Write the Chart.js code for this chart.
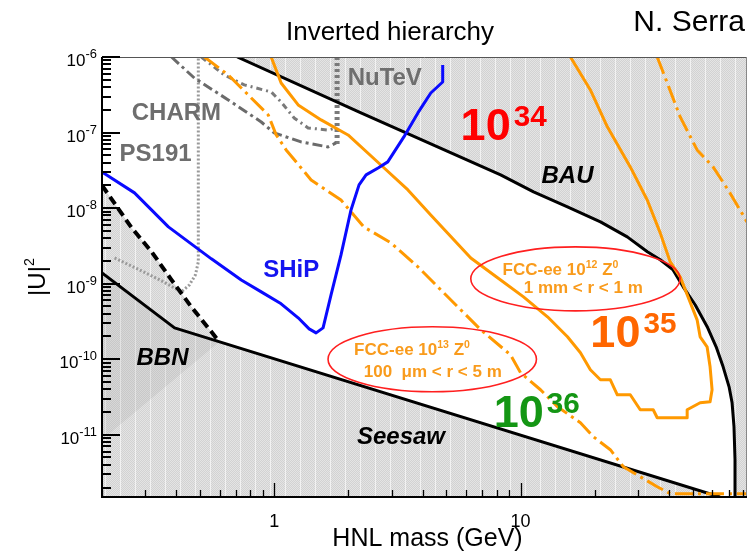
<!DOCTYPE html>
<html>
<head>
<meta charset="utf-8">
<script src="https://cdn.jsdelivr.net/npm/chart.js@4/dist/chart.umd.min.js"></script>
<style>
  html, body { margin: 0; padding: 0; background: #fff; }
  #wrap { width: 753px; height: 555px; }
</style>
</head>
<body>
<div id="wrap"><canvas id="c" width="753" height="555"></canvas></div>
<script>
// Axis ranges: HNL mass in GeV, mixing |U|^2
const massRange = [0.2, 83];
const mixingRange = [1.5e-12, 1e-6];
const yTickExponents = [-6, -7, -8, -9, -10, -11];
const xTickLabels = [1, 10];

// Baryon asymmetry (BAU) boundary
const bauMass = [0.708, 2.25, 8.30, 11.29, 15.5, 21.1, 27.1, 32.7, 36.9, 41.6, 45.7, 51.1, 57.2, 62.2, 66.4, 70.2, 72.2, 73.5, 74.2, 74.2];
const bauU2   = [1e-6, 1.82e-7, 2.75e-8, 1.64e-8, 1.04e-8, 6.57e-9, 4.16e-9, 2.64e-9, 2.07e-9, 1.52e-9, 9.08e-10, 5.25e-10, 2.69e-10, 1.46e-10, 7.93e-11, 4.31e-11, 2.65e-11, 1.28e-11, 4.67e-12, 1.5e-12];

// Seesaw lower bound
const seesawMass = [0.2, 0.394, 64.5];
const seesawU2   = [1.39e-9, 2.60e-10, 1.5e-12];

// BBN bound (dashed) and the edge of the BBN core region
const bbnMass = [0.2, 0.264, 0.318, 0.383, 0.461, 0.599];
const bbnU2   = [2.0e-8, 5.47e-9, 2.64e-9, 1.12e-9, 4.93e-10, 1.70e-10];
const bbnCoreMass = [0.2, 0.599];
const bbnCoreU2   = [8.6e-12, 1.70e-10];

// SHiP sensitivity
const shipMass = [0.2, 0.271, 0.372, 0.556, 0.735, 0.886, 1.067, 1.251, 1.386, 1.479, 1.579, 1.701, 1.867, 2.05, 2.21, 2.36, 2.64, 2.89, 3.36, 3.83, 4.32, 4.83, 4.83];
const shipU2   = [3.01e-8, 1.59e-8, 5.64e-9, 2.13e-9, 1.12e-9, 7.79e-10, 5.41e-10, 3.53e-10, 2.52e-10, 2.23e-10, 2.60e-10, 7.11e-10, 2.40e-9, 9.46e-9, 2.03e-8, 2.75e-8, 3.40e-8, 4.09e-8, 8.75e-8, 1.82e-7, 3.34e-7, 4.67e-7, 7.84e-7];

// FCC-ee, 10^12 Z0, 1 mm < r < 1 m (solid contour)
const fcc12Mass = [0.972, 1.067, 1.251, 1.550, 1.994, 2.71, 3.49, 4.32, 6.28, 8.30, 10.28, 12.86, 15.50, 17.50, 19.20, 21.09, 23.14, 24.70, 27.88, 30.60, 34.55, 35.86, 47.45, 47.45, 53.56, 58.78, 59.89, 58.78, 57.16, 53.56, 52.07, 44.45, 40.50, 36.88, 32.67, 27.88, 22.50, 19.20, 15.94];
const fcc12U2   = [1e-6, 4.53e-7, 2.32e-7, 1.47e-7, 9.29e-8, 3.72e-8, 1.74e-8, 8.13e-9, 2.19e-9, 1.12e-9, 6.68e-10, 3.64e-10, 1.98e-10, 1.22e-10, 7.24e-11, 5.34e-11, 5.34e-11, 3.38e-11, 3.38e-11, 2.14e-11, 2.14e-11, 1.68e-11, 1.68e-11, 2.14e-11, 2.65e-11, 2.73e-11, 3.94e-11, 7.93e-11, 1.46e-10, 1.98e-10, 3.32e-10, 1.23e-9, 1.94e-9, 4.70e-9, 1.28e-8, 3.51e-8, 1.19e-7, 3.66e-7, 1e-6];

// FCC-ee, 10^13 Z0, 100 um < r < 5 m (dash-dot contour, two branches)
const fcc13Mass = [0.521, 0.651, 0.785, 0.946, 1.019, 1.118, 1.412, 1.867, 2.31, 2.98, 3.83, 4.88, 6.89, 9.11, 10.0, 12.05, 14.12, 17.50, 19.75, 23.14, 26.12, 30.60, 35.86, 40.50, 83];
const fcc13U2   = [1e-6, 5.78e-7, 3.14e-7, 1.71e-7, 9.29e-8, 5.89e-8, 2.36e-8, 1.28e-8, 5.64e-9, 3.46e-9, 1.67e-9, 7.55e-10, 2.45e-10, 1.14e-10, 6.61e-11, 3.94e-11, 2.35e-11, 1.44e-11, 9.42e-12, 6.34e-12, 3.78e-12, 2.78e-12, 2.05e-12, 1.66e-12, 1.66e-12];
const fcc13HighMass = [35.86, 39.4, 44.45, 52.07, 60.45, 70.8, 83];
const fcc13HighU2   = [1e-6, 4.53e-7, 1.61e-7, 5.89e-8, 3.51e-8, 1.59e-8, 6.57e-9];

// Past experiments
const charmMass = [0.383, 0.474, 0.651, 0.886, 1.0, 1.286, 1.654, 1.782];
const charmU2   = [1e-6, 5.27e-7, 2.70e-7, 1.38e-7, 9.89e-8, 7.51e-8, 6.45e-8, 7.28e-8];
const charmUpperMass = [0.506, 0.627, 0.756, 0.972, 1.067, 1.205, 1.373, 1.654, 1.782];
const charmUpperU2   = [1e-6, 5.78e-7, 4.27e-7, 3.45e-7, 2.54e-7, 1.56e-7, 1.15e-7, 1.08e-7, 1.15e-7];
const nutevMass = [1.80, 1.80];
const nutevU2   = [1e-6, 6.85e-8];
const ps191Mass = [0.225, 0.289, 0.349, 0.420, 0.453, 0.479, 0.492, 0.492];
const ps191U2   = [2.19e-9, 1.48e-9, 1.09e-9, 7.79e-10, 9.64e-10, 1.31e-9, 1.94e-9, 1e-6];

// Region labels (centre of the text)
const labelText = ['CHARM', 'PS191', 'NuTeV', 'SHiP', 'BAU', 'BBN', 'Seesaw'];
const labelMass = [0.401, 0.330, 2.81, 1.172, 15.5, 0.352, 3.27];
const labelU2   = [1.90e-7, 5.46e-8, 5.52e-7, 1.59e-9, 2.79e-8, 1.09e-10, 9.71e-12];

// Event-count labels (left edge, baseline)
const rateText = ['10^{34}', '10^{35}', '10^{36}'];
const rateMass = [5.71, 19.2, 7.78];
const rateU2   = [7.98e-8, 1.46e-10, 1.28e-11];

// FCC-ee ellipses (bounding box) and their two text lines (left edge, baseline)
const ellipseMass = [[6.28, 44.4], [1.654, 11.6]];
const ellipseU2   = [[3.07e-9, 4.36e-10], [2.69e-10, 3.71e-11]];
const ellipseText = [['FCC-ee 10^{12} Z^{0}', '1 mm < r < 1 m'], ['FCC-ee 10^{13} Z^{0}', '100  \u03bcm < r < 5 m']];
const ellipseTextMass = [[8.45, 10.3], [2.11, 2.31]];
const ellipseTextU2   = [[1.31e-9, 7.55e-10], [1.14e-10, 5.85e-11]];

const FAMILY = '"Liberation Sans", Arial, Helvetica, sans-serif';

const canvas = document.getElementById('c');
const ctx0 = canvas.getContext('2d');

// Light grey dithered texture with faint vertical stripes for excluded regions
function makeHatch(ctx) {
  const tile = document.createElement('canvas');
  tile.width = 15; tile.height = 2;
  const t = tile.getContext('2d');
  for (let yy = 0; yy < 2; yy++) {
    for (let xx = 0; xx < 15; xx++) {
      t.fillStyle = xx === 0 ? '#f2f2f2' : ((xx + yy) % 2 ? '#e4e4e4' : '#d2d2d2');
      t.fillRect(xx, yy, 1, 1);
    }
  }
  return ctx.createPattern(tile, 'repeat');
}
const hatch = makeHatch(ctx0);

function series(label, xs, ys, style) {
  return Object.assign({
    label,
    data: xs.map((x, i) => ({ x, y: ys[i] })),
    pointRadius: 0, pointHoverRadius: 0, tension: 0, fill: false,
    borderCapStyle: 'butt', borderJoinStyle: 'round'
  }, style);
}

const orange = '#ff9900';
const datasets = [
  series('BBN core', bbnCoreMass, bbnCoreU2, { borderWidth: 1, borderColor: 'rgba(0,0,0,0)', backgroundColor: 'rgba(150,150,150,0.16)', fill: 6 }),
  series('SHiP', shipMass, shipU2, { borderColor: '#0a0aff', borderWidth: 3 }),
  series('FCC-ee 1e12', fcc12Mass, fcc12U2, { borderColor: orange, borderWidth: 3 }),
  series('FCC-ee 1e13', fcc13Mass, fcc13U2, { borderColor: orange, borderWidth: 3, borderDash: [18, 5, 3, 5] }),
  series('FCC-ee 1e13 high', fcc13HighMass, fcc13HighU2, { borderColor: orange, borderWidth: 3, borderDash: [18, 5, 3, 5] }),
  series('BAU', bauMass, bauU2, { borderColor: '#000', borderWidth: 3 }),
  series('Seesaw', seesawMass, seesawU2, { borderColor: '#000', borderWidth: 3, fill: 'start', backgroundColor: hatch }),
  series('BBN', bbnMass, bbnU2, { borderColor: '#000', borderWidth: 4, borderDash: [9, 5], fill: 'start', backgroundColor: hatch }),
  series('CHARM', charmMass, charmU2, { borderColor: '#6b6b6b', borderWidth: 3, borderDash: [10, 4, 3, 4] }),
  series('CHARM upper', charmUpperMass, charmUpperU2, { borderColor: '#7a7a7a', borderWidth: 3, borderDash: [6, 4, 2, 4] }),
  series('NuTeV', nutevMass, nutevU2, { borderColor: '#7a7a7a', borderWidth: 5, borderDash: [3, 3] }),
  series('PS191', ps191Mass, ps191U2, { borderColor: '#9a9a9a', borderWidth: 3, borderDash: [2, 2] }),
  series('BAU region', [...bauMass, massRange[1]], [...bauU2, mixingRange[0]], { borderWidth: 1, borderColor: 'rgba(0,0,0,0)', fill: 'end', backgroundColor: hatch })
];

// Text with ^{...} superscripts
function drawLatex(ctx, str, x, y, o) {
  const parts = [];
  const re = /\^\{([^}]*)\}/g;
  let last = 0, m;
  while ((m = re.exec(str))) {
    if (m.index > last) parts.push({ t: str.slice(last, m.index), sup: false });
    parts.push({ t: m[1], sup: true });
    last = re.lastIndex;
  }
  if (last < str.length) parts.push({ t: str.slice(last), sup: false });
  const fontFor = sup => `${o.style || 'normal'} ${o.weight || 'normal'} ${sup ? o.size * o.supScale : o.size}px ${FAMILY}`;
  const gap = o.gap || 0;
  let total = 0;
  parts.forEach(p => {
    ctx.font = fontFor(p.sup);
    p.w = ctx.measureText(p.t).width;
    total += p.w + (p.sup ? gap : 0);
  });
  let cx = o.align === 'right' ? x - total : o.align === 'center' ? x - total / 2 : x;
  ctx.fillStyle = o.color || '#000';
  ctx.textAlign = 'left';
  ctx.textBaseline = 'alphabetic';
  parts.forEach(p => {
    ctx.font = fontFor(p.sup);
    if (p.sup) cx += gap;
    ctx.fillText(p.t, cx, p.sup ? y - o.size * o.rise : y);
    cx += p.w;
  });
}

const labelStyle = {
  CHARM:  { color: '#6e6e6e', style: 'normal' },
  PS191:  { color: '#6e6e6e', style: 'normal' },
  NuTeV:  { color: '#6e6e6e', style: 'normal' },
  SHiP:   { color: '#1414f0', style: 'normal' },
  BAU:    { color: '#000', style: 'italic' },
  BBN:    { color: '#000', style: 'italic' },
  Seesaw: { color: '#000', style: 'italic' }
};
const rateColor = ['#ff0000', '#ff6600', '#149614'];

const decorations = {
  id: 'decorations',
  afterDraw(chart) {
    const { ctx, chartArea: a, scales: { x, y } } = chart;
    const px = v => x.getPixelForValue(v);
    const py = v => y.getPixelForValue(v);
    ctx.save();

    // FCC-ee ellipses
    ctx.strokeStyle = '#ff1f1f';
    ctx.lineWidth = 1.6;
    ellipseMass.forEach((mm, i) => {
      const x0 = px(mm[0]), x1 = px(mm[1]);
      const y0 = py(ellipseU2[i][0]), y1 = py(ellipseU2[i][1]);
      ctx.beginPath();
      ctx.ellipse((x0 + x1) / 2, (y0 + y1) / 2, (x1 - x0) / 2, Math.abs(y1 - y0) / 2, 0, 0, 2 * Math.PI);
      ctx.stroke();
    });
    ellipseText.forEach((lines, i) => {
      lines.forEach((s, j) => {
        drawLatex(ctx, s, px(ellipseTextMass[i][j]), py(ellipseTextU2[i][j]),
          { size: 17, supScale: 0.62, rise: 0.42, weight: 'bold', color: '#f99b1c' });
      });
    });

    // Region labels
    labelText.forEach((s, i) => {
      const st = labelStyle[s];
      ctx.font = `${st.style} bold 24px ${FAMILY}`;
      ctx.fillStyle = st.color;
      ctx.textAlign = 'center';
      ctx.textBaseline = 'alphabetic';
      ctx.fillText(s, px(labelMass[i]), py(labelU2[i]) + 24 * 0.36);
    });

    // Event counts
    rateText.forEach((s, i) => {
      drawLatex(ctx, s, px(rateMass[i]), py(rateU2[i]),
        { size: 45, supScale: 0.66, rise: 0.3, gap: 3, weight: 'bold', color: rateColor[i] });
    });

    // Frame
    ctx.strokeStyle = '#555';
    ctx.lineWidth = 1;
    ctx.beginPath();
    ctx.moveTo(a.left, a.top + 0.5); ctx.lineTo(a.right, a.top + 0.5);
    ctx.stroke();
    ctx.strokeStyle = '#888';
    ctx.beginPath();
    ctx.moveTo(a.right - 0.5, a.top); ctx.lineTo(a.right - 0.5, a.bottom);
    ctx.stroke();
    ctx.strokeStyle = '#000';
    ctx.lineWidth = 2;
    ctx.beginPath();
    ctx.moveTo(a.left, a.top); ctx.lineTo(a.left, a.bottom);
    ctx.lineTo(a.right, a.bottom);
    ctx.stroke();

    // Inward ticks on the log axes
    const inRange = (v, lo, hi) => v >= lo * 0.999 && v <= hi * 1.001;
    ctx.lineWidth = 2;
    ctx.beginPath();
    for (let d = Math.floor(Math.log10(mixingRange[0])); d <= Math.ceil(Math.log10(mixingRange[1])); d++) {
      for (let k = 1; k <= 9; k++) {
        const v = k * Math.pow(10, d);
        if (!inRange(v, mixingRange[0], mixingRange[1])) continue;
        const yy = Math.round(py(v));
        ctx.moveTo(a.left, yy); ctx.lineTo(a.left + (k === 1 ? 18 : 9), yy);
      }
    }
    ctx.stroke();
    ctx.lineWidth = 1.3;
    ctx.beginPath();
    for (let d = Math.floor(Math.log10(massRange[0])); d <= Math.ceil(Math.log10(massRange[1])); d++) {
      for (let k = 1; k <= 9; k++) {
        const v = k * Math.pow(10, d);
        if (!inRange(v, massRange[0], massRange[1])) continue;
        const xx = Math.round(px(v)) + 0.5;
        ctx.moveTo(xx, a.bottom); ctx.lineTo(xx, a.bottom - (k === 1 ? 14 : 7));
      }
    }
    ctx.stroke();

    // Tick labels
    yTickExponents.forEach(e => {
      drawLatex(ctx, '10^{' + e + '}', a.left - 5, py(Math.pow(10, e)) + 9,
        { size: 17, supScale: 0.76, rise: 0.47, align: 'right', color: '#000' });
    });
    ctx.font = `18px ${FAMILY}`;
    ctx.fillStyle = '#000';
    ctx.textAlign = 'center';
    xTickLabels.forEach(v => ctx.fillText(String(v), px(v), 527));

    // Axis titles
    ctx.font = `25px ${FAMILY}`;
    ctx.textAlign = 'center';
    ctx.fillText('HNL mass (GeV)', (a.left + a.right) / 2 + 3, 546);

    ctx.save();
    ctx.translate(45, 277);
    ctx.rotate(-Math.PI / 2);
    drawLatex(ctx, '|U|^{2}', 0, 0, { size: 24, supScale: 0.6, rise: 0.45, align: 'center', color: '#000' });
    ctx.restore();

    // Titles
    ctx.font = `26px ${FAMILY}`;
    ctx.textAlign = 'center';
    ctx.fillStyle = '#000';
    ctx.fillText('Inverted hierarchy', 390, 40);
    ctx.font = `30px ${FAMILY}`;
    ctx.textAlign = 'right';
    ctx.fillText('N. Serra', 745, 31);

    ctx.restore();
  }
};

new Chart(canvas, {
  type: 'line',
  data: { datasets },
  options: {
    responsive: false,
    devicePixelRatio: 1,
    animation: false,
    events: [],
    layout: { padding: { top: 57, right: 6, bottom: 0, left: 0 } },
    plugins: {
      legend: { display: false },
      tooltip: { enabled: false },
      filler: { drawTime: 'beforeDatasetsDraw' }
    },
    scales: {
      x: {
        type: 'logarithmic', min: massRange[0], max: massRange[1],
        grid: { display: false }, border: { display: false },
        ticks: { display: false },
        afterFit(s) { s.height = 58; }
      },
      y: {
        type: 'logarithmic', min: mixingRange[0], max: mixingRange[1],
        grid: { display: false }, border: { display: false },
        ticks: { display: false },
        afterFit(s) { s.width = 102; }
      }
    }
  },
  plugins: [decorations]
});
</script>
</body>
</html>
